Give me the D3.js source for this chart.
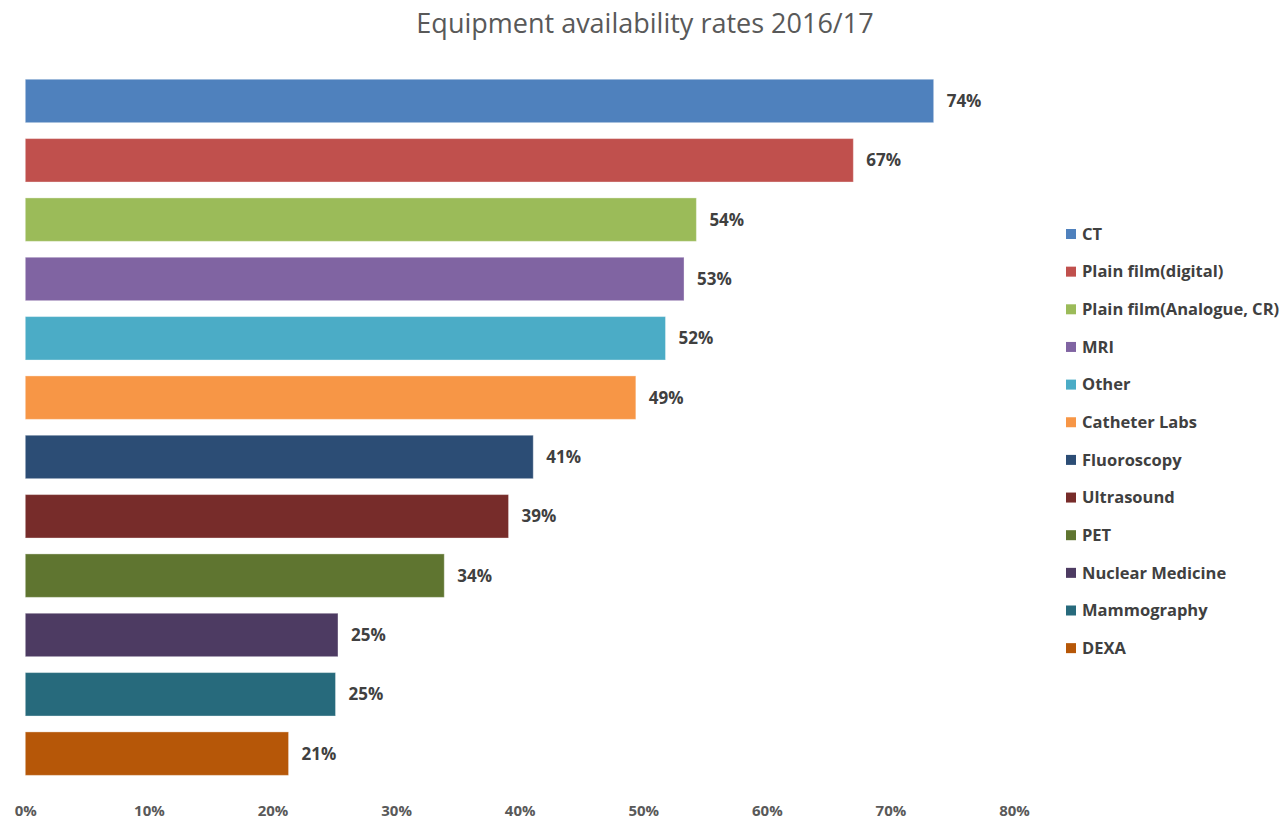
<!DOCTYPE html>
<html>
<head>
<meta charset="utf-8">
<script src="https://cdn.jsdelivr.net/npm/d3@7"></script>
<style>
  html, body { margin: 0; padding: 0; background: #ffffff; }
  svg { display: block; }
</style>
</head>
<body>
<svg id="chart" width="1284" height="820"></svg>
<script>
// Equipment availability by modality, 2016/17 (percent)
const categories = [
  "CT", "Plain film(digital)", "Plain film(Analogue, CR)", "MRI", "Other",
  "Catheter Labs", "Fluoroscopy", "Ultrasound", "PET", "Nuclear Medicine",
  "Mammography", "DEXA"
];
const rates = [73.5, 67.0, 54.3, 53.3, 51.8, 49.4, 41.1, 39.1, 33.9, 25.3, 25.1, 21.3];
const colors = [
  "#4F81BD", "#C0504D", "#9BBB59", "#8064A2", "#4BACC6", "#F79646",
  "#2C4D75", "#772C2A", "#5F7530", "#4D3B62", "#276A7C", "#B65708"
];
const tickValues = [0, 10, 20, 30, 40, 50, 60, 70, 80];
const titleText = "Equipment availability rates 2016/17";

const svg = d3.select("#chart");
const labelFont = "'Open Sans', 'Noto Sans', sans-serif";

const x = d3.scaleLinear().domain([0, 80]).range([25.3, 1014]);
const y = d3.scaleBand().domain(categories).range([71.3, 783.3]).paddingInner(0.268).paddingOuter(0.134);
const color = d3.scaleOrdinal().domain(categories).range(colors);

// Title
svg.append("text")
  .attr("x", 645).attr("y", 33)
  .attr("text-anchor", "middle")
  .attr("font-family", labelFont)
  .attr("font-size", 27)
  .attr("fill", "#595959")
  .text(titleText);

// Bars
svg.append("g").selectAll("rect")
  .data(categories)
  .join("rect")
  .attr("x", x(0))
  .attr("y", d => y(d))
  .attr("width", (d, i) => x(rates[i]) - x(0))
  .attr("height", y.bandwidth())
  .attr("fill", d => color(d))
  .attr("stroke", "rgba(255,255,255,0.35)")
  .attr("stroke-width", 1);

// Value labels
svg.append("g").selectAll("text")
  .data(categories)
  .join("text")
  .attr("x", (d, i) => x(rates[i]) + 13)
  .attr("y", d => y(d) + y.bandwidth() / 2)
  .attr("dy", "0.35em")
  .attr("font-family", labelFont)
  .attr("font-weight", "bold")
  .attr("font-size", 17)
  .attr("fill", "#404040")
  .text((d, i) => Math.round(rates[i]) + "%");

// X axis (labels only)
const xAxis = d3.axisBottom(x)
  .tickValues(tickValues)
  .tickFormat(d => d + "%")
  .tickSize(0)
  .tickPadding(0);
const axisG = svg.append("g")
  .attr("transform", "translate(0,805)")
  .call(xAxis);
axisG.select(".domain").remove();
axisG.selectAll("text")
  .attr("font-family", labelFont)
  .attr("font-weight", "bold")
  .attr("font-size", 15)
  .attr("fill", "#595959");

// Legend
const legend = svg.append("g").selectAll("g")
  .data(categories)
  .join("g")
  .attr("transform", (d, i) => `translate(1066,${234 + i * 37.65})`);
legend.append("rect")
  .attr("x", 0).attr("y", -5)
  .attr("width", 10).attr("height", 10)
  .attr("fill", d => color(d));
legend.append("text")
  .attr("x", 16).attr("y", 0)
  .attr("dy", "0.35em")
  .attr("font-family", labelFont)
  .attr("font-weight", "bold")
  .attr("font-size", 16.5)
  .attr("fill", "#404040")
  .text(d => d);
</script>
</body>
</html>
